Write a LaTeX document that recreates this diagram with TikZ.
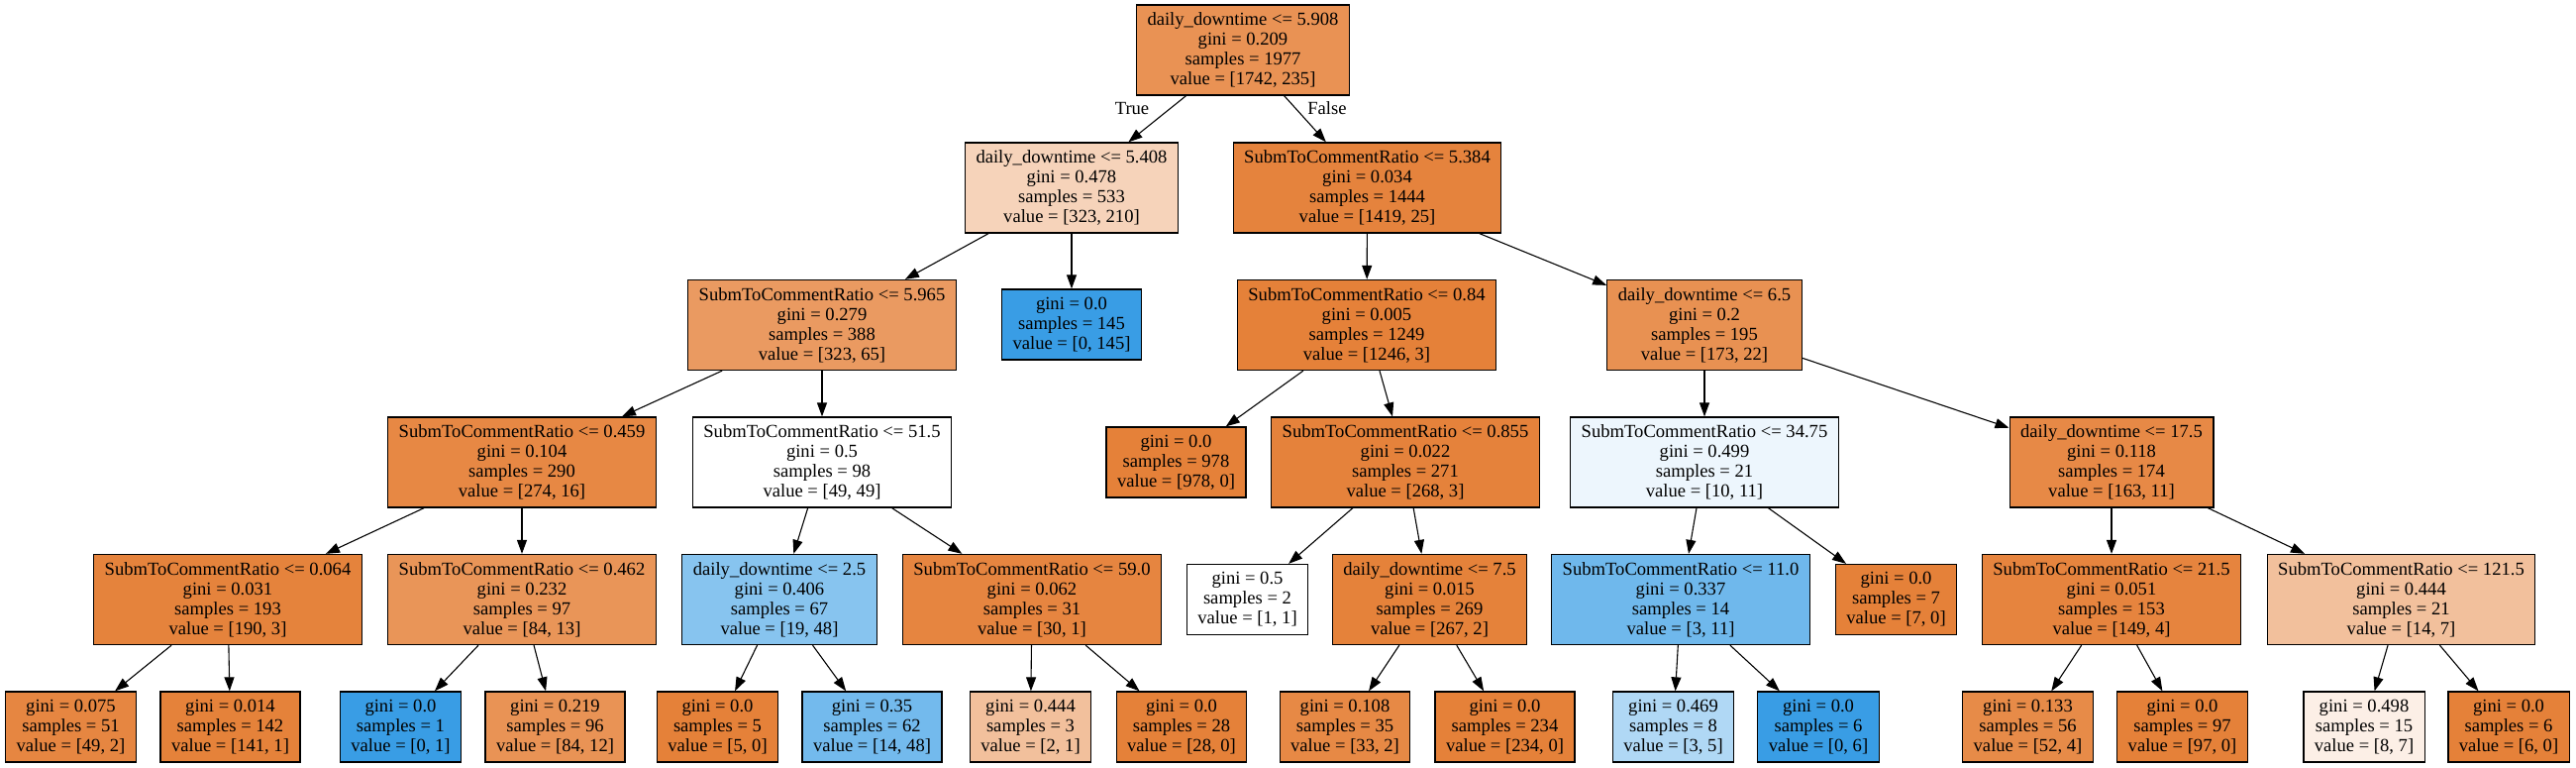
\documentclass[tikz,border=0pt]{standalone}
\usepackage{fontspec}
\setmainfont{Liberation Serif}
\usepackage{xcolor}
\usetikzlibrary{arrows.meta}
\definecolor{clsorange}{RGB}{229,129,57}
\definecolor{clsblue}{RGB}{57,157,229}

\begin{document}
\begin{tikzpicture}[x=1pt, y=1pt, font=\fontsize{18.6}{20}\selectfont,
    split/.style={rectangle, draw=black, line width=1.3pt, align=center,
      inner xsep=11pt, inner ysep=0pt, minimum height=91pt},
    leaf/.style={split, minimum height=71pt},
    branch/.style={-{Triangle[length=14pt, width=10pt]}, line width=1.1pt, black}]

    \useasboundingbox (0,0) rectangle (2601,-775);

    % depth 0 and 1
    \node (n0) [split, fill=clsorange!86.5] at (1255,-50.5) {daily\_downtime <= 5.908\\gini = 0.209\\samples = 1977\\value = [1742, 235]};
    \node (n1) [split, fill=clsorange!35] at (1082,-189.5) {daily\_downtime <= 5.408\\gini = 0.478\\samples = 533\\value = [323, 210]};
    \node (n18) [split, fill=clsorange!98.2] at (1380.5,-189.5) {SubmToCommentRatio <= 5.384\\gini = 0.034\\samples = 1444\\value = [1419, 25]};

    % depth 2
    \node (n2) [split, fill=clsorange!79.9] at (830,-328) {SubmToCommentRatio <= 5.965\\gini = 0.279\\samples = 388\\value = [323, 65]};
    \node (n17) [leaf, fill=clsblue] at (1082,-327.5) {gini = 0.0\\samples = 145\\value = [0, 145]};
    \node (n19) [split, fill=clsorange!99.8] at (1380,-328) {SubmToCommentRatio <= 0.84\\gini = 0.005\\samples = 1249\\value = [1246, 3]};
    \node (n26) [split, fill=clsorange!87.3] at (1721,-328) {daily\_downtime <= 6.5\\gini = 0.2\\samples = 195\\value = [173, 22]};

    % depth 3
    \node (n3) [split, fill=clsorange!94.2] at (527,-466.5) {SubmToCommentRatio <= 0.459\\gini = 0.104\\samples = 290\\value = [274, 16]};
    \node (n10) [split, fill=white] at (830,-466.5) {SubmToCommentRatio <= 51.5\\gini = 0.5\\samples = 98\\value = [49, 49]};
    \node (n20) [leaf, fill=clsorange] at (1187.5,-466.5) {gini = 0.0\\samples = 978\\value = [978, 0]};
    \node (n21) [split, fill=clsorange!98.9] at (1419,-466.5) {SubmToCommentRatio <= 0.855\\gini = 0.022\\samples = 271\\value = [268, 3]};
    \node (n27) [split, fill=clsblue!9.1] at (1721,-466.5) {SubmToCommentRatio <= 34.75\\gini = 0.499\\samples = 21\\value = [10, 11]};
    \node (n32) [split, fill=clsorange!93.3] at (2132,-466.5) {daily\_downtime <= 17.5\\gini = 0.118\\samples = 174\\value = [163, 11]};

    % depth 4
    \node (n4) [split, fill=clsorange!98.4] at (230,-605) {SubmToCommentRatio <= 0.064\\gini = 0.031\\samples = 193\\value = [190, 3]};
    \node (n7) [split, fill=clsorange!84.5] at (527,-605) {SubmToCommentRatio <= 0.462\\gini = 0.232\\samples = 97\\value = [84, 13]};
    \node (n11) [split, fill=clsblue!60.4] at (787,-605) {daily\_downtime <= 2.5\\gini = 0.406\\samples = 67\\value = [19, 48]};
    \node (n14) [split, fill=clsorange!96.7] at (1042,-605) {SubmToCommentRatio <= 59.0\\gini = 0.062\\samples = 31\\value = [30, 1]};
    \node (n22) [leaf, fill=white] at (1259.5,-605) {gini = 0.5\\samples = 2\\value = [1, 1]};
    \node (n23) [split, fill=clsorange!99.3] at (1443.5,-605) {daily\_downtime <= 7.5\\gini = 0.015\\samples = 269\\value = [267, 2]};
    \node (n28) [split, fill=clsblue!72.7] at (1697,-605) {SubmToCommentRatio <= 11.0\\gini = 0.337\\samples = 14\\value = [3, 11]};
    \node (n31) [leaf, fill=clsorange] at (1914.5,-605) {gini = 0.0\\samples = 7\\value = [7, 0]};
    \node (n33) [split, fill=clsorange!97.3] at (2132,-605) {SubmToCommentRatio <= 21.5\\gini = 0.051\\samples = 153\\value = [149, 4]};
    \node (n36) [split, fill=clsorange!50] at (2424.5,-605) {SubmToCommentRatio <= 121.5\\gini = 0.444\\samples = 21\\value = [14, 7]};

    % depth 5 (leaves)
    \node (n5) [leaf, fill=clsorange!95.9] at (71.5,-733.5) {gini = 0.075\\samples = 51\\value = [49, 2]};
    \node (n6) [leaf, fill=clsorange!99.3] at (232.5,-733.5) {gini = 0.014\\samples = 142\\value = [141, 1]};
    \node (n8) [leaf, fill=clsblue] at (404.5,-733.5) {gini = 0.0\\samples = 1\\value = [0, 1]};
    \node (n9) [leaf, fill=clsorange!85.7] at (560.5,-733.5) {gini = 0.219\\samples = 96\\value = [84, 12]};
    \node (n12) [leaf, fill=clsorange] at (724.5,-733.5) {gini = 0.0\\samples = 5\\value = [5, 0]};
    \node (n13) [leaf, fill=clsblue!70.8] at (880.5,-733.5) {gini = 0.35\\samples = 62\\value = [14, 48]};
    \node (n15) [leaf, fill=clsorange!50] at (1040.5,-733.5) {gini = 0.444\\samples = 3\\value = [2, 1]};
    \node (n16) [leaf, fill=clsorange] at (1193,-733.5) {gini = 0.0\\samples = 28\\value = [28, 0]};
    \node (n24) [leaf, fill=clsorange!93.9] at (1358,-733.5) {gini = 0.108\\samples = 35\\value = [33, 2]};
    \node (n25) [leaf, fill=clsorange] at (1519.5,-733.5) {gini = 0.0\\samples = 234\\value = [234, 0]};
    \node (n29) [leaf, fill=clsblue!40] at (1689.5,-733.5) {gini = 0.469\\samples = 8\\value = [3, 5]};
    \node (n30) [leaf, fill=clsblue] at (1836,-733.5) {gini = 0.0\\samples = 6\\value = [0, 6]};
    \node (n34) [leaf, fill=clsorange!92.3] at (2047.5,-733.5) {gini = 0.133\\samples = 56\\value = [52, 4]};
    \node (n35) [leaf, fill=clsorange] at (2203.5,-733.5) {gini = 0.0\\samples = 97\\value = [97, 0]};
    \node (n37) [leaf, fill=clsorange!12.5] at (2387,-733.5) {gini = 0.498\\samples = 15\\value = [8, 7]};
    \node (n38) [leaf, fill=clsorange] at (2533,-733.5) {gini = 0.0\\samples = 6\\value = [6, 0]};

    \node (truelbl) at (1143,-110) {True};
    \node (falselbl) at (1340,-109) {False};

    \foreach \i/\j in {n0/n1, n0/n18, n1/n2, n1/n17, n18/n19, n18/n26,
        n2/n3, n2/n10, n19/n20, n19/n21, n26/n27, n26/n32,
        n3/n4, n3/n7, n10/n11, n10/n14, n21/n22, n21/n23, n27/n28, n27/n31, n32/n33, n32/n36,
        n4/n5, n4/n6, n7/n8, n7/n9, n11/n12, n11/n13, n14/n15, n14/n16,
        n23/n24, n23/n25, n28/n29, n28/n30, n33/n34, n33/n35, n36/n37, n36/n38} {
      \draw [branch] (\i) -- (\j);
    }
\end{tikzpicture}
\end{document}
